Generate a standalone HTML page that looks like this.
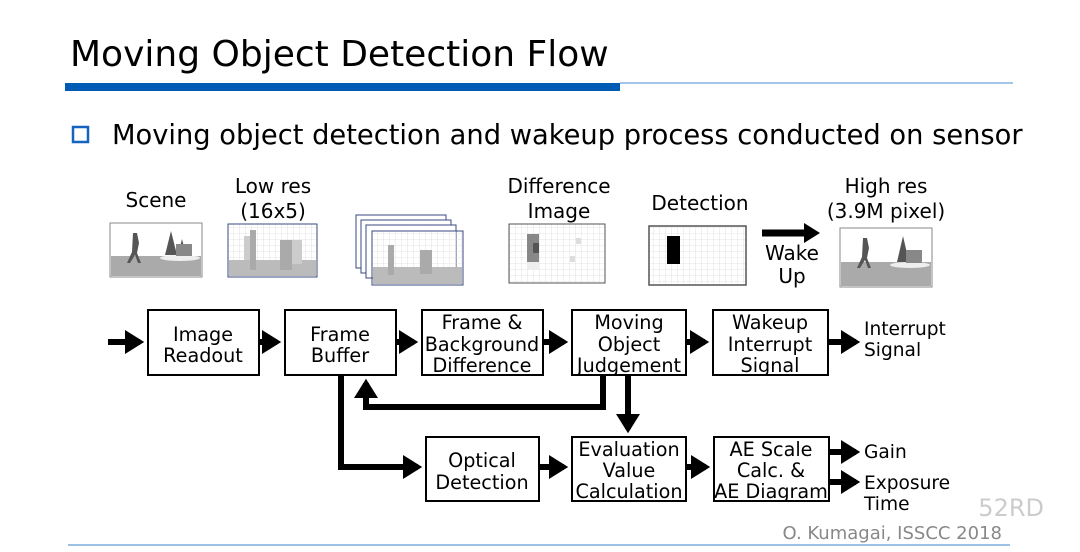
<!DOCTYPE html>
<html><head><meta charset="utf-8"><style>
html,body{margin:0;padding:0;background:#fff;}
svg{display:block;font-family:"DejaVu Sans","Liberation Sans",sans-serif;}
</style></head><body>
<svg width="1080" height="552" viewBox="0 0 1080 552" xmlns="http://www.w3.org/2000/svg">
<defs>
<pattern id="g" width="6" height="6" patternUnits="userSpaceOnUse"><path d="M6 0V6H0" fill="none" stroke="#ddd" stroke-width="0.8"/></pattern>
<marker id="ah" markerWidth="4" markerHeight="4" refX="2.5" refY="2" orient="auto" markerUnits="strokeWidth"><path d="M0,0 L3.2,2 L0,4 Z" fill="#000"/></marker>
</defs>
<!-- title -->
<text x="70" y="66" font-size="36" fill="#000">Moving Object Detection Flow</text>
<rect x="65" y="83" width="555" height="8" fill="#005bb5"/>
<line x1="620" y1="83" x2="1013" y2="83" stroke="#4a8ad0" stroke-width="1"/>
<rect x="73" y="127" width="15" height="15" fill="none" stroke="#1565c0" stroke-width="2.5"/>
<text x="112" y="144" font-size="27.3" fill="#000">Moving object detection and wakeup process conducted on sensor</text>

<!-- image labels -->
<g font-size="20" text-anchor="middle" fill="#000">
<text x="156" y="207">Scene</text>
<text x="273" y="193">Low res</text>
<text x="273" y="218">(16x5)</text>
<text x="559" y="193">Difference</text>
<text x="559" y="218">Image</text>
<text x="700" y="210">Detection</text>
<text x="886" y="193">High res</text>
<text x="886" y="218">(3.9M pixel)</text>
<text x="792" y="260">Wake</text>
<text x="792" y="283">Up</text>
</g>

<!-- scene -->
<g>
<rect x="110" y="223" width="92" height="54" fill="#fff" stroke="#888"/>
<rect x="111" y="256" width="90" height="20" fill="#aaa"/>
<path d="M133 233 l4 0 l2 10 l-2 10 l4 10 l-3 0 l-3-8 l-5 8 l-3 0 l5-11 z" fill="#555"/>
<path d="M165 255 l6-24 l6 24z M178 255 l4-16 l4 16z" fill="#555"/>
<ellipse cx="180" cy="258" rx="20" ry="3" fill="#eee"/>
<rect x="176" y="244" width="16" height="12" fill="#888"/>
</g>
<!-- low res -->
<g>
<rect x="228" y="224" width="89" height="53" fill="url(#g)" stroke="#3a4a80"/>
<rect x="229" y="260" width="87" height="16" fill="#bbb"/>
<rect x="244" y="236" width="6" height="24" fill="#ccc"/><rect x="250" y="230" width="6" height="40" fill="#aaa"/>
<rect x="280" y="240" width="12" height="30" fill="#aaa"/><rect x="292" y="240" width="10" height="24" fill="#ccc"/>
</g>
<!-- stack -->
<g stroke="#3a4a80" fill="#fff">
<rect x="356" y="215" width="90" height="53"/>
<rect x="361" y="220" width="90" height="53"/>
<rect x="366" y="225" width="90" height="53"/>
<rect x="372" y="231" width="91" height="54" fill="url(#g)"/>
</g>
<rect x="373" y="267" width="89" height="17" fill="#bbb"/>
<rect x="388" y="245" width="6" height="30" fill="#aaa"/><rect x="420" y="250" width="12" height="24" fill="#aaa"/>
<!-- difference -->
<g>
<rect x="509" y="224" width="96" height="59" fill="url(#g)" stroke="#555"/>
<rect x="527" y="234" width="12" height="28" fill="#888"/><rect x="533" y="243" width="6" height="10" fill="#555"/>
<rect x="527" y="262" width="12" height="8" fill="#eee"/>
<rect x="576" y="238" width="5" height="6" fill="#ddd"/><rect x="570" y="256" width="5" height="6" fill="#ddd"/>
</g>
<!-- detection -->
<g>
<rect x="649" y="226" width="97" height="59" fill="url(#g)" stroke="#555" stroke-width="1.5"/>
<rect x="667" y="236" width="13" height="28" fill="#000"/>
</g>
<!-- wake arrow -->
<line x1="762" y1="233" x2="806" y2="233" stroke="#000" stroke-width="7"/>
<path d="M804 223 L820 233 L804 243Z" fill="#000"/>
<!-- high res -->
<g>
<rect x="840" y="228" width="92" height="59" fill="#fff" stroke="#888"/>
<rect x="841" y="262" width="90" height="24" fill="#aaa"/>
<path d="M863 238 l4 0 l2 10 l-2 10 l4 10 l-3 0 l-3-8 l-5 8 l-3 0 l5-11 z" fill="#555"/>
<path d="M897 262 l6-26 l6 26z" fill="#555"/>
<ellipse cx="910" cy="265" rx="20" ry="3" fill="#eee"/>
<rect x="906" y="250" width="16" height="13" fill="#888"/>
</g>

<!-- boxes -->
<g fill="#fff" stroke="#000" stroke-width="2">
<rect x="148" y="310" width="111" height="65"/>
<rect x="285" y="310" width="111" height="65"/>
<rect x="422" y="310" width="121" height="65"/>
<rect x="572" y="310" width="114" height="65"/>
<rect x="713" y="310" width="115" height="65"/>
<rect x="426" y="437" width="113" height="64"/>
<rect x="572" y="437" width="114" height="64"/>
<rect x="714" y="437" width="115" height="64"/>
</g>
<g font-size="19.2" text-anchor="middle" fill="#000">
<text x="203" y="341">Image</text><text x="203" y="362">Readout</text>
<text x="340" y="341">Frame</text><text x="340" y="362">Buffer</text>
<text x="482" y="329">Frame &amp;</text><text x="482" y="351">Background</text><text x="482" y="372">Difference</text>
<text x="629" y="329">Moving</text><text x="629" y="351">Object</text><text x="629" y="372">Judgement</text>
<text x="770" y="329">Wakeup</text><text x="770" y="351">Interrupt</text><text x="770" y="372">Signal</text>
<text x="482" y="467">Optical</text><text x="482" y="489">Detection</text>
<text x="629" y="456">Evaluation</text><text x="629" y="477">Value</text><text x="629" y="498">Calculation</text>
<text x="771" y="456">AE Scale</text><text x="771" y="477">Calc. &amp;</text><text x="771" y="498">AE Diagram</text>
</g>
<g font-size="18.6" fill="#000">
<text x="864" y="335">Interrupt</text><text x="864" y="356">Signal</text>
<text x="864" y="458">Gain</text>
<text x="864" y="489">Exposure</text><text x="864" y="510">Time</text>
</g>

<!-- connectors -->
<g stroke="#000" stroke-width="6" fill="none" marker-end="url(#ah)">
<line x1="108" y1="342" x2="140" y2="342"/>
<line x1="259" y1="342" x2="277" y2="342"/>
<line x1="396" y1="342" x2="414" y2="342"/>
<line x1="543" y1="342" x2="564" y2="342"/>
<line x1="686" y1="342" x2="705" y2="342"/>
<line x1="828" y1="342" x2="856" y2="342"/>
<polyline points="603,375 603,407 366,407 366,383"/>
<line x1="628" y1="375" x2="628" y2="429"/>
<polyline points="341,375 341,467 418,467"/>
<line x1="539" y1="467" x2="564" y2="467"/>
<line x1="686" y1="467" x2="706" y2="467"/>
<line x1="829" y1="452" x2="856" y2="452"/>
<line x1="829" y1="482" x2="856" y2="482"/>
</g>

<!-- footer -->
<text x="1044" y="516" font-size="24" fill="#ccc" text-anchor="end">52RD</text>
<text x="1002" y="539" font-size="18" fill="#888" text-anchor="end">O. Kumagai, ISSCC 2018</text>
<line x1="68" y1="545" x2="1010" y2="545" stroke="#9cc0e6" stroke-width="2"/>
</svg>
</body></html>
